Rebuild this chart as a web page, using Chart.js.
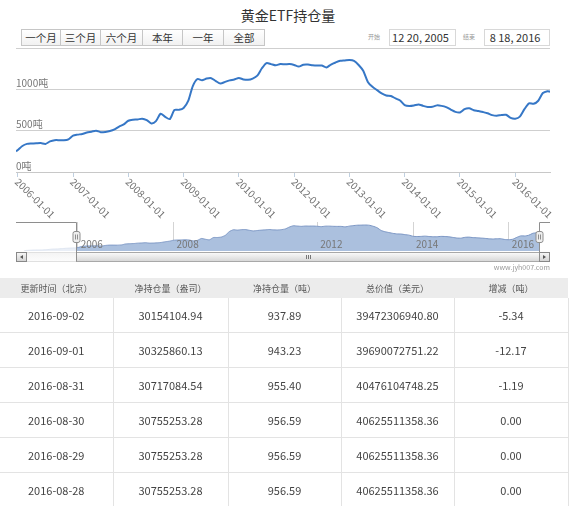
<!DOCTYPE html>
<html>
<head>
<meta charset="utf-8">
<script src="https://cdn.jsdelivr.net/npm/chart.js@4/dist/chart.umd.min.js"></script>
<style>
  body { margin:0; width:576px; height:506px; overflow:hidden; background:#fff; position:relative;
         font-family:'Noto Sans CJK SC', sans-serif; }
  .abs { position:absolute; }
  #title { left:0; top:5px; width:576px; text-align:center; font-size:14px; color:#333; }
  .btn { position:absolute; top:29px; height:17px; box-sizing:border-box; border:1px solid #c6c6c6;
         background:linear-gradient(#ffffff,#f1f1f1); font-size:10.5px; line-height:15px; text-align:center; color:#333; }
  .lbl { position:absolute; top:32px; font-size:6px; color:#999; }
  .inp { position:absolute; top:29px; height:17px; box-sizing:border-box; border:1px solid #d8d8d8;
         font-size:11px; line-height:15px; text-align:center; color:#333; padding-right:4px; }
  #mainWrap { left:0; top:36px; }
  #navWrap { left:0; top:222px; }
  #mark { right:26px; top:262px; font-size:7px; color:#999; }
  #tbl { position:absolute; left:0; top:278px; width:568px; border-collapse:collapse; table-layout:fixed; }
  #tbl th { height:20px; padding:0; background:#ececec; font-size:9px; font-weight:normal; color:#555; }
  #tbl td { height:34px; padding:0; text-align:center; font-size:11px; color:#444;
            border-bottom:1px solid #e3e3e3; border-right:1px solid #e3e3e3; }
</style>
</head>
<body>
<div id="title" class="abs">黄金ETF持仓量</div>
<div class="btn" style="left:21px;width:40px">一个月</div>
<div class="btn" style="left:60px;width:41px">三个月</div>
<div class="btn" style="left:100px;width:43px">六个月</div>
<div class="btn" style="left:142px;width:41px">本年</div>
<div class="btn" style="left:182px;width:42px">一年</div>
<div class="btn" style="left:223px;width:42px">全部</div>
<div class="lbl" style="left:368px">开始</div>
<div class="inp" style="left:389px;width:67px">12 20, 2005</div>
<div class="lbl" style="left:463px">结束</div>
<div class="inp" style="left:484px;width:66px">8 18, 2016</div>

<div id="mainWrap" class="abs"><canvas id="mainChart" width="576" height="186"></canvas></div>
<div id="navWrap" class="abs"><canvas id="navChart" width="576" height="41"></canvas></div>
<div id="mark" class="abs">www.jyh007.com</div>

<table id="tbl">
  <colgroup><col style="width:113px"><col style="width:115px"><col style="width:113px"><col style="width:113px"><col style="width:114px"></colgroup>
  <thead><tr id="headRow"></tr></thead>
  <tbody id="tbody"></tbody>
</table>

<script>
// holdings in tonnes, one value per month (1st of month); 2011 is absent from the source series
const startDate = '2005-12-20';
const startTonnes = 250;
const endDate = '2016-08-18';
const endTonnes = 972;

const years = [2006, 2007, 2008, 2009, 2010, 2012, 2013, 2014, 2015, 2016];
const tonnes2006 = [265, 315, 340, 345, 348, 350, 340, 370, 385, 385, 383, 395];
const tonnes2007 = [440, 452, 460, 478, 488, 500, 482, 485, 495, 515, 550, 575];
const tonnes2008 = [620, 632, 635, 645, 628, 588, 615, 705, 667, 640, 750, 752];
const tonnes2009 = [775, 860, 1040, 1125, 1110, 1130, 1135, 1100, 1070, 1090, 1108, 1120];
const tonnes2010 = [1138, 1120, 1115, 1130, 1165, 1255, 1318, 1305, 1290, 1306, 1303, 1305];
const tonnes2012 = [1295, 1275, 1298, 1300, 1292, 1288, 1288, 1265, 1300, 1325, 1345, 1350];
const tonnes2013 = [1355, 1345, 1295, 1225, 1090, 1030, 990, 950, 925, 920, 890, 865];
const tonnes2014 = [810, 799, 805, 818, 800, 787, 788, 806, 800, 785, 755, 727];
const tonnes2015 = [720, 760, 770, 747, 738, 725, 710, 688, 680, 690, 692, 655];
const tonnes2016 = [645, 670, 760, 830, 825, 862, 955, 978];
const tonnesByYear = [tonnes2006, tonnes2007, tonnes2008, tonnes2009, tonnes2010,
                      tonnes2012, tonnes2013, tonnes2014, tonnes2015, tonnes2016];

// navigator also shows the earlier history
const navPrefixDates = ['2004-11-18', '2004-12-01', '2005-01-01', '2005-02-01', '2005-03-01', '2005-04-01',
                        '2005-05-01', '2005-06-01', '2005-07-01', '2005-08-01', '2005-09-01', '2005-10-01', '2005-11-01'];
const navPrefixTonnes = [100, 125, 135, 145, 148, 150, 160, 180, 195, 200, 215, 230, 240];
const navMinDate = '2004-09-18';
const navLabels = ['2006', '2008', '2012', '2014', '2016'];

const yTicks = [0, 500, 1000, 1500];

// table
const tableHead = ['更新时间（北京）', '净持仓量（盎司）', '净持仓量（吨）', '总价值（美元）', '增减（吨）'];
const tableDates = ['2016-09-02', '2016-09-01', '2016-08-31', '2016-08-30', '2016-08-29', '2016-08-28'];
const tableOunces = ['30154104.94', '30325860.13', '30717084.54', '30755253.28', '30755253.28', '30755253.28'];
const tableTonnes = ['937.89', '943.23', '955.40', '956.59', '956.59', '956.59'];
const tableValues = ['39472306940.80', '39690072751.22', '40476104748.25', '40625511358.36', '40625511358.36', '40625511358.36'];
const tableChanges = ['-5.34', '-12.17', '-1.19', '0.00', '0.00', '0.00'];

// ordinal position: months since 2006-01, with the missing year 2011 collapsed
function ordIndex(d) {
  const [y, m, day] = d.split('-').map(Number);
  return (y - 2006) * 12 + (m - 1) + (day - 1) / 31 - (y >= 2012 ? 12 : 0);
}
function pad2(n) { return n < 10 ? '0' + n : '' + n; }

const mainPoints = [{ x: ordIndex(startDate), y: startTonnes }];
years.forEach((yr, i) => {
  tonnesByYear[i].forEach((v, m) => mainPoints.push({ x: ordIndex(`${yr}-${pad2(m + 1)}-01`), y: v }));
});
mainPoints.push({ x: ordIndex(endDate), y: endTonnes });
const navPoints = navPrefixDates.map((d, i) => ({ x: ordIndex(d), y: navPrefixTonnes[i] })).concat(mainPoints);

const axisDates = years.map(y => y + '-01-01');
const FONT = '"Noto Sans CJK SC", sans-serif';

const mainDecor = {
  id: 'mainDecor',
  afterDraw(chart) {
    const { ctx, scales: { x } } = chart;
    ctx.save();
    ctx.font = '10px ' + FONT;
    ctx.fillStyle = '#707070';
    ctx.textAlign = 'left';
    ctx.textBaseline = 'middle';
    axisDates.forEach(d => {
      const px = x.getPixelForValue(ordIndex(d));
      ctx.save();
      ctx.translate(px - 1, x.top + 8);
      ctx.rotate(Math.PI / 4);
      ctx.fillText(d, 0, 0);
      ctx.restore();
    });
    ctx.restore();
  }
};

new Chart(document.getElementById('mainChart'), {
  type: 'line',
  data: {
    datasets: [{
      data: mainPoints,
      borderColor: '#3677c6',
      borderWidth: 2,
      pointRadius: 0,
      tension: 0.25,
      fill: false
    }]
  },
  options: {
    responsive: false, animation: false,
    layout: { padding: { left: 16, right: 26, top: 12, bottom: 45 } },
    plugins: { legend: { display: false }, tooltip: { enabled: false } },
    scales: {
      x: {
        type: 'linear',
        min: ordIndex(startDate), max: ordIndex(endDate),
        afterBuildTicks: ax => { ax.ticks = axisDates.map(d => ({ value: ordIndex(d) })); },
        grid: { drawOnChartArea: false, drawTicks: true, tickLength: 5, color: '#c0d0e0' },
        border: { color: '#c8c8c8' },
        ticks: { display: false }
      },
      y: {
        min: 0, max: 1500,
        afterBuildTicks: ax => { ax.ticks = yTicks.map(v => ({ value: v })); },
        grid: { color: '#cfcfcf', drawTicks: false },
        border: { display: false },
        ticks: {
          mirror: true, padding: 0, labelOffset: -6, color: '#777',
          font: { size: 10, family: FONT },
          callback: v => (v >= 1500 ? '' : v + '吨')
        }
      }
    }
  },
  plugins: [mainDecor]
});

const navDecor = {
  id: 'navDecor',
  afterDraw(chart) {
    const { ctx, scales: { x }, chartArea: ca } = chart;
    const selL = Math.round(x.getPixelForValue(ordIndex(startDate))) + 0.5;
    const selR = Math.round(x.getPixelForValue(ordIndex(endDate))) + 0.5;
    ctx.save();
    // axis labels inside navigator
    ctx.font = '10px ' + FONT;
    ctx.fillStyle = '#777';
    ctx.textAlign = 'left';
    ctx.textBaseline = 'middle';
    navLabels.forEach(l => ctx.fillText(l, x.getPixelForValue(ordIndex(l + '-01-01')) + 3, 22));
    // mask of unselected range
    ctx.fillStyle = 'rgba(255,255,255,0.75)';
    ctx.fillRect(ca.left, ca.top, selL - ca.left, ca.bottom - ca.top);
    if (selR < ca.right) ctx.fillRect(selR, ca.top, ca.right - selR, ca.bottom - ca.top);

    // scrollbar track
    const sTop = 30.5, sH = 9, sL = 16.5, sR = 549.5;
    let g = ctx.createLinearGradient(0, sTop, 0, sTop + sH);
    g.addColorStop(0, '#f4f4f4'); g.addColorStop(1, '#fcfcfc');
    ctx.fillStyle = g; ctx.strokeStyle = '#e0e0e0'; ctx.lineWidth = 1;
    ctx.fillRect(sL, sTop, sR - sL, sH); ctx.strokeRect(sL, sTop, sR - sL, sH);
    // scrollbar bar
    g = ctx.createLinearGradient(0, sTop, 0, sTop + sH);
    g.addColorStop(0, '#fbfbfb'); g.addColorStop(1, '#d6d6d6');
    ctx.fillStyle = g; ctx.strokeStyle = '#a8a8a8';
    ctx.fillRect(selL, sTop, selR - selL, sH); ctx.strokeRect(selL, sTop, selR - selL, sH);
    const mid = Math.round((selL + selR) / 2) + 0.5;
    ctx.strokeStyle = '#777';
    [-2, 0, 2].forEach(dx => { ctx.beginPath(); ctx.moveTo(mid + dx, sTop + 2.5); ctx.lineTo(mid + dx, sTop + sH - 2.5); ctx.stroke(); });
    // scrollbar buttons
    [[sL, 1], [sR - 10, -1]].forEach(([bx, dir]) => {
      const bg = ctx.createLinearGradient(0, sTop, 0, sTop + sH);
      bg.addColorStop(0, '#f8f8f8'); bg.addColorStop(1, '#d2d2d2');
      ctx.fillStyle = bg; ctx.strokeStyle = '#888';
      ctx.fillRect(bx, sTop, 10, sH); ctx.strokeRect(bx, sTop, 10, sH);
      ctx.fillStyle = '#555';
      ctx.beginPath();
      const cx = bx + 5, cy = sTop + sH / 2;
      ctx.moveTo(cx - 1.5 * dir, cy); ctx.lineTo(cx + 1.5 * dir, cy - 2); ctx.lineTo(cx + 1.5 * dir, cy + 2);
      ctx.closePath(); ctx.fill();
    });

    // outline
    ctx.strokeStyle = '#8e8e8e';
    ctx.beginPath();
    ctx.moveTo(16, 0.5); ctx.lineTo(selL, 0.5); ctx.lineTo(selL, sTop + sH);
    ctx.moveTo(selR, sTop + sH); ctx.lineTo(selR, 0.5); ctx.lineTo(550, 0.5);
    ctx.stroke();
    // handles
    [selL, selR].forEach(hx => {
      ctx.fillStyle = '#eeeeee'; ctx.strokeStyle = '#8e8e8e';
      ctx.beginPath(); ctx.roundRect(hx - 3.5, 9.5, 7, 11, 2); ctx.fill(); ctx.stroke();
      ctx.beginPath(); ctx.moveTo(hx - 1, 12.5); ctx.lineTo(hx - 1, 17.5); ctx.moveTo(hx + 1, 12.5); ctx.lineTo(hx + 1, 17.5); ctx.stroke();
    });
    ctx.restore();
  }
};

new Chart(document.getElementById('navChart'), {
  type: 'line',
  data: {
    datasets: [{
      data: navPoints,
      borderColor: '#7b96c4',
      backgroundColor: '#abc0de',
      borderWidth: 1,
      pointRadius: 0,
      tension: 0.2,
      fill: 'start'
    }]
  },
  options: {
    responsive: false, animation: false,
    layout: { padding: { left: 16, right: 37, top: 0, bottom: 12 } },
    plugins: { legend: { display: false }, tooltip: { enabled: false } },
    scales: {
      x: {
        type: 'linear',
        min: ordIndex(navMinDate), max: ordIndex(endDate),
        afterBuildTicks: ax => { ax.ticks = navLabels.map(l => ({ value: ordIndex(l + '-01-01') })); },
        grid: { drawTicks: false, color: '#d4d4d4' },
        border: { display: false },
        ticks: { display: false }
      },
      y: { display: false, min: 100, max: 1500 }
    }
  },
  plugins: [navDecor]
});

// table rows
document.getElementById('headRow').innerHTML = tableHead.map(h => `<th>${h}</th>`).join('');
document.getElementById('tbody').innerHTML = tableDates.map((d, i) =>
  `<tr><td>${d}</td><td>${tableOunces[i]}</td><td>${tableTonnes[i]}</td><td>${tableValues[i]}</td><td>${tableChanges[i]}</td></tr>`
).join('');
</script>
</body>
</html>
